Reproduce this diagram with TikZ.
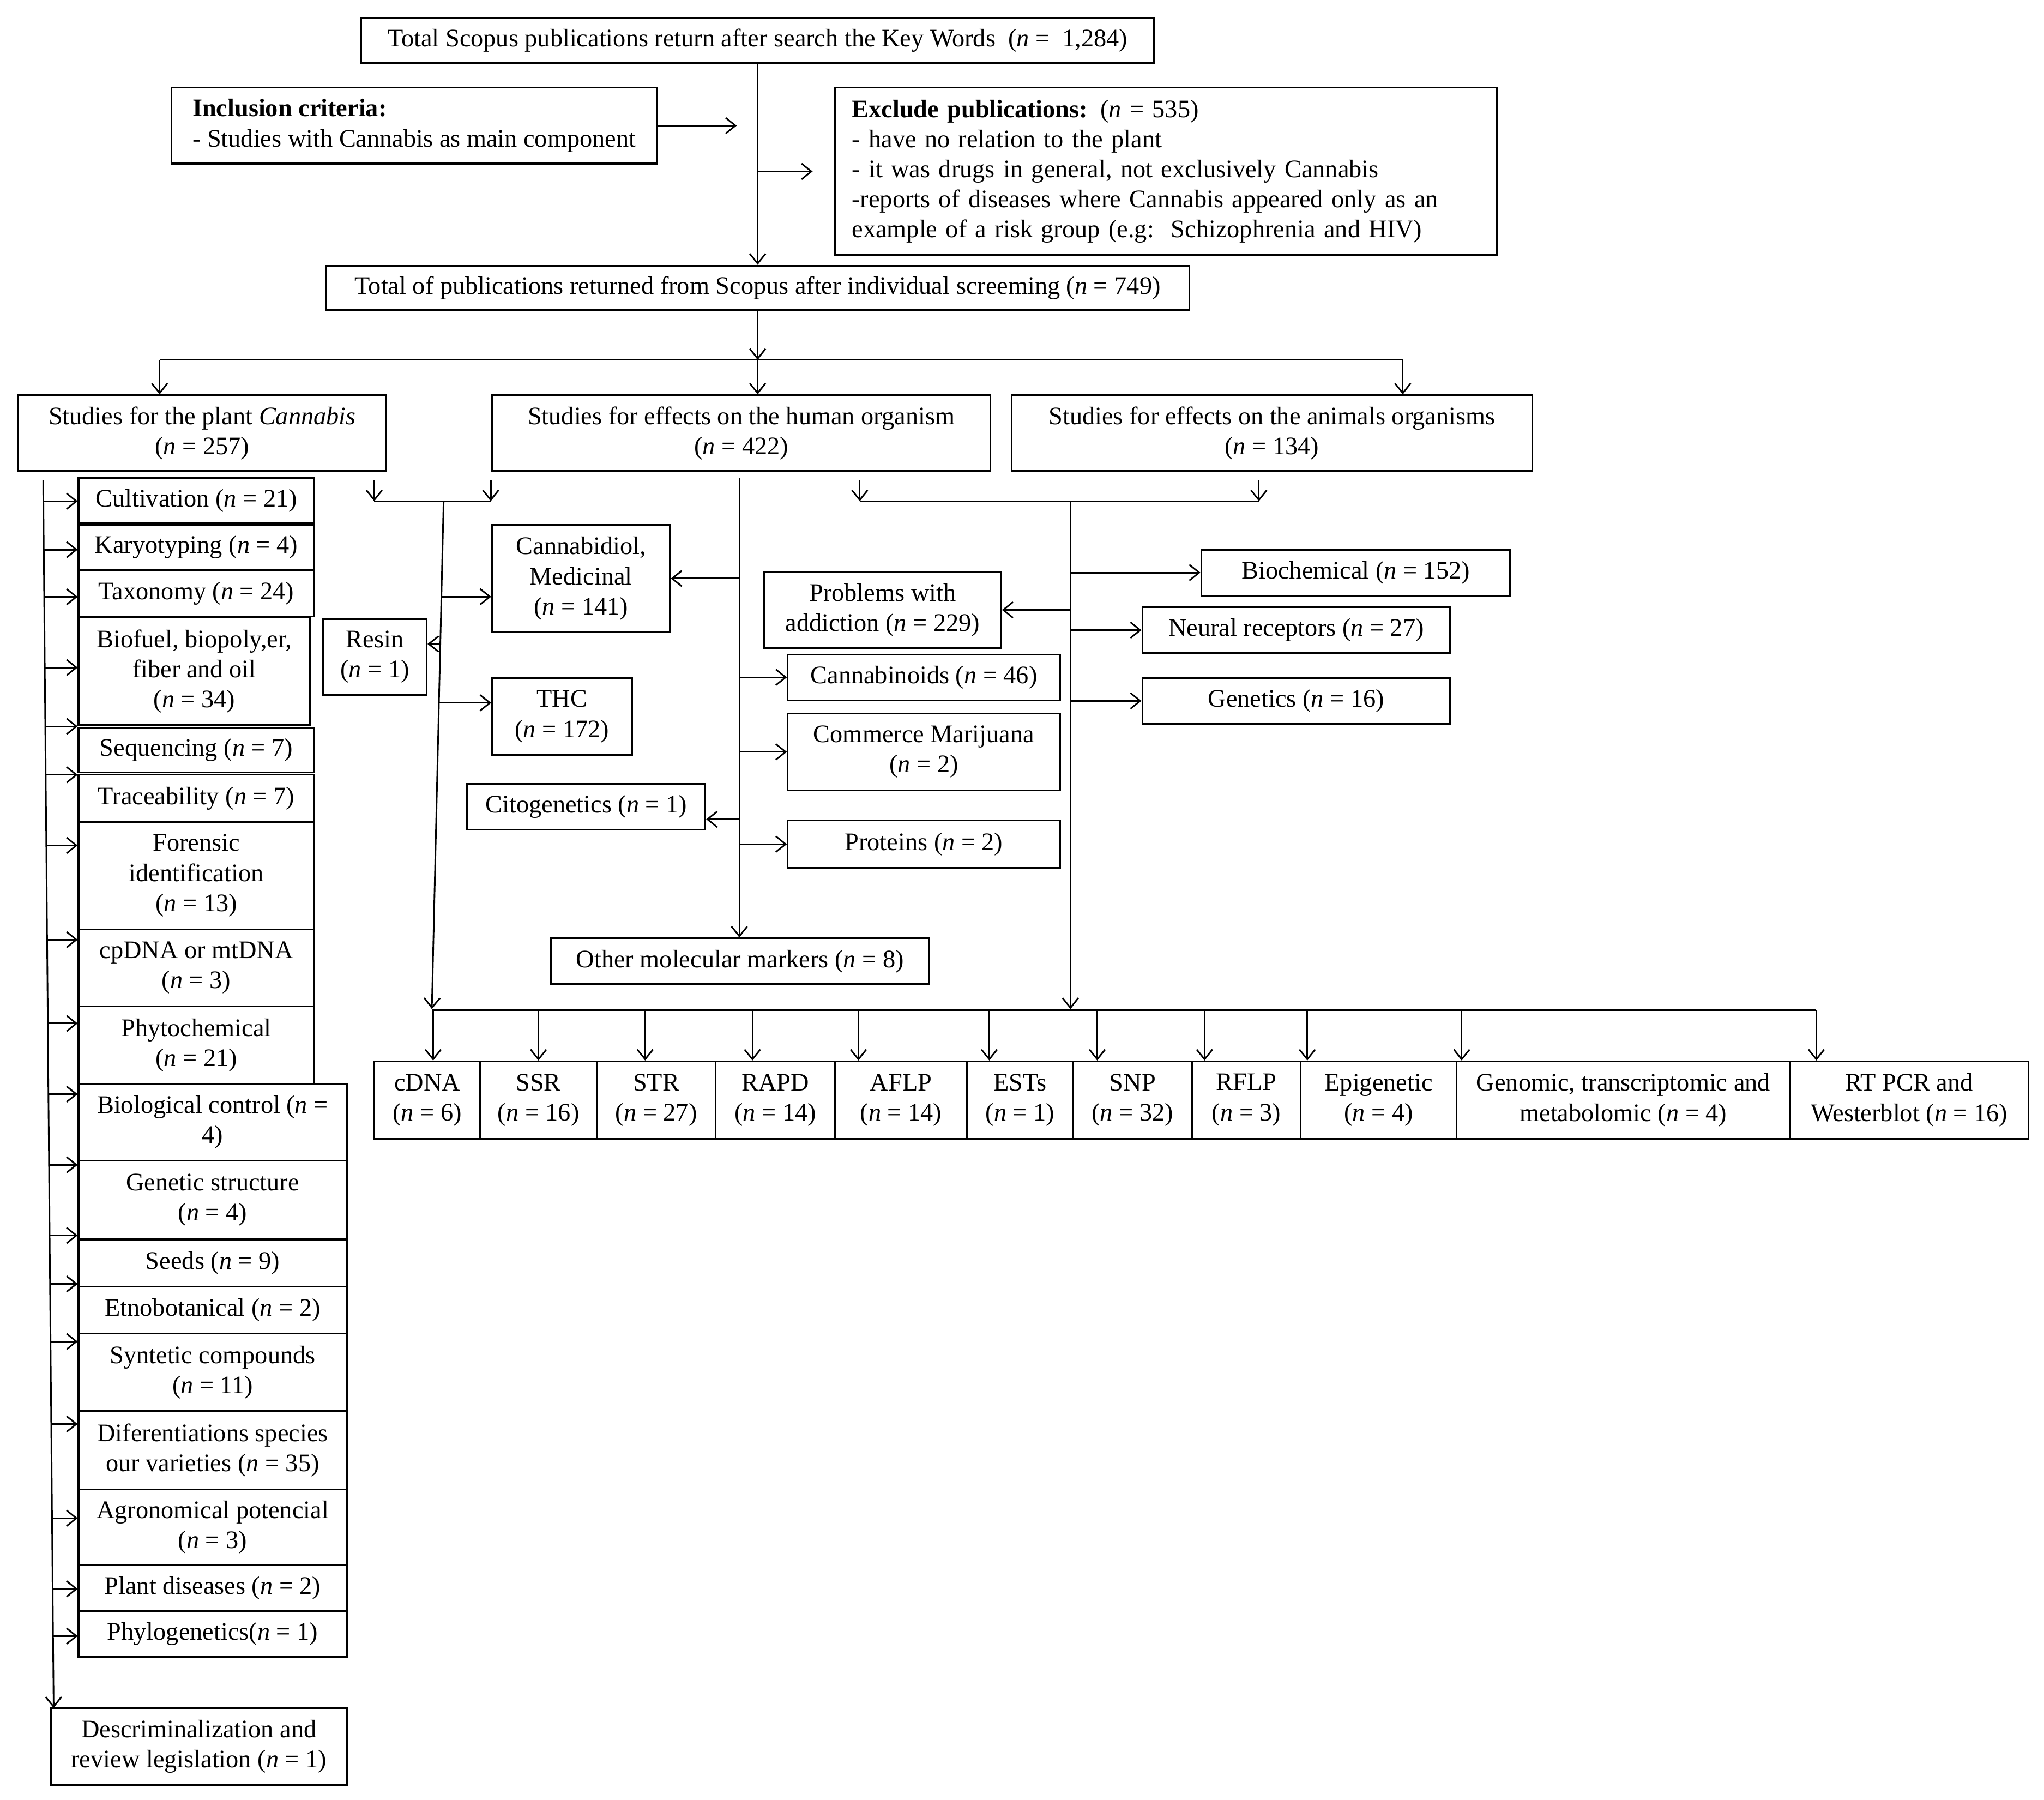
\documentclass[tikz,border=0pt]{standalone}
\usepackage{fontspec}
\setmainfont{Liberation Serif}
\usetikzlibrary{arrows.meta,calc}
\tikzset{
  box/.style={draw, line width=1.3pt, inner sep=1pt, align=center, font=\fontsize{19.3}{23}\selectfont},
  arr/.style={line width=1.2pt, -{Straight Barb[length=7.5pt,width=12pt,line width=1.2pt]}},
  ln/.style={line width=1.2pt},
}
\newcommand{\bx}[7][]{\node[box,#1,minimum width={(#5-#3)*1pt},minimum height={(#6-#4)*1pt}] (#2) at ({(#3+#5)/2},{(#4+#6)/2}) {#7};}
\newcommand{\nn}{\textit{n}}
\begin{document}
\begin{tikzpicture}[x=1pt,y=-1pt]
\useasboundingbox (0,0) rectangle (1562,1375);
% top part
\bx{top}{276}{14}{882}{48}{Total Scopus publications return after search the Key Words\ \ (\nn\ =\ \ 1,284)}
\bx[align=left]{incl}{131}{67}{502}{125}{\textbf{Inclusion criteria:}\\- Studies with Cannabis as main component}
\bx[align=left,text width=480pt]{excl}{638}{67}{1144}{195}{\textbf{Exclude publications:} (\nn\ = 535)\\- have no relation to the plant\\- it was drugs in general, not exclusively Cannabis\\-reports of diseases where Cannabis appeared only as an\\example of a risk group (e.g:\ \ Schizophrenia and HIV)}
\bx{screen}{249}{203}{909}{237}{Total of publications returned from Scopus after individual screeming (\nn\ = 749)}
\bx{plant}{14}{302}{295}{360}{Studies for the plant \textit{Cannabis}\\(\nn\ = 257)}
\bx{human}{376}{302}{757}{360}{Studies for effects on the human organism\\(\nn\ = 422)}
\bx{animal}{773}{302}{1171}{360}{Studies for effects on the animals organisms\\(\nn\ = 134)}
% left column
\bx{cult}{60}{365}{240}{400}{Cultivation (\nn\ = 21)}
\bx{kary}{60}{401}{240}{435}{Karyotyping (\nn\ = 4)}
\bx{taxo}{60}{436}{240}{471}{Taxonomy (\nn\ = 24)}
\bx{biof}{60}{472}{237}{554}{Biofuel, biopoly,er,\\fiber and oil\\(\nn\ = 34)}
\bx{sequ}{60}{556}{240}{590}{Sequencing (\nn\ = 7)}
\bx{trac}{60}{592}{240}{628}{Traceability (\nn\ = 7)}
\bx{fore}{60}{628}{240}{710}{Forensic\\identification\\(\nn\ = 13)}
\bx{cpdn}{60}{710}{240}{769}{cpDNA or mtDNA\\(\nn\ = 3)}
\bx{phyt}{60}{769}{240}{828}{Phytochemical\\(\nn\ = 21)}
\bx{bioc}{60}{828}{265}{887}{Biological control (\nn\ =\\4)}
\bx{gens}{60}{887}{265}{947}{Genetic structure\\(\nn\ = 4)}
\bx{seed}{60}{947}{265}{983}{Seeds (\nn\ = 9)}
\bx{etno}{60}{983}{265}{1019}{Etnobotanical (\nn\ = 2)}
\bx{synt}{60}{1019}{265}{1078}{Syntetic compounds\\(\nn\ = 11)}
\bx{dife}{60}{1078}{265}{1138}{Diferentiations species\\our varieties (\nn\ = 35)}
\bx{agro}{60}{1138}{265}{1196}{Agronomical potencial\\(\nn\ = 3)}
\bx{pdis}{60}{1196}{265}{1231}{Plant diseases (\nn\ = 2)}
\bx{phyl}{60}{1231}{265}{1266}{Phylogenetics(\nn\ = 1)}
\bx{desc}{39}{1305}{265}{1364}{Descriminalization and\\review legislation (\nn\ = 1)}
% middle
\bx{resin}{247}{473}{326}{531}{Resin\\(\nn\ = 1)}
\bx{cbd}{376}{401}{512}{483}{Cannabidiol,\\Medicinal\\(\nn\ = 141)}
\bx{thc}{376}{518}{483}{577}{THC\\(\nn\ = 172)}
\bx{cito}{357}{599}{539}{634}{Citogenetics (\nn\ = 1)}
\bx{prob}{584}{437}{765}{495}{Problems with\\addiction (\nn\ = 229)}
\bx{cnbs}{602}{500}{810}{535}{Cannabinoids (\nn\ = 46)}
\bx{comm}{602}{545}{810}{604}{Commerce Marijuana\\(\nn\ = 2)}
\bx{prot}{602}{627}{810}{663}{Proteins (\nn\ = 2)}
\bx{omm}{421}{717}{710}{752}{Other molecular markers (\nn\ = 8)}
% right
\bx{bioch}{918}{420}{1154}{455}{Biochemical (\nn\ = 152)}
\bx{neur}{873}{464}{1108}{499}{Neural receptors (\nn\ = 27)}
\bx{gene}{873}{518}{1108}{553}{Genetics (\nn\ = 16)}
% bottom row
\bx{cdna}{286}{811}{367}{870}{cDNA\\(\nn\ = 6)}
\bx{ssr}{367}{811}{456}{870}{SSR\\(\nn\ = 16)}
\bx{str}{456}{811}{547}{870}{STR\\(\nn\ = 27)}
\bx{rapd}{547}{811}{638}{870}{RAPD\\(\nn\ = 14)}
\bx{aflp}{638}{811}{739}{870}{AFLP\\(\nn\ = 14)}
\bx{ests}{739}{811}{820}{870}{ESTs\\(\nn\ = 1)}
\bx{snp}{820}{811}{911}{870}{SNP\\(\nn\ = 32)}
\bx{rflp}{911}{811}{994}{870}{RFLP\\(\nn\ = 3)}
\bx{epig}{994}{811}{1113}{870}{Epigenetic\\(\nn\ = 4)}
\bx{gtm}{1113}{811}{1368}{870}{Genomic, transcriptomic and\\metabolomic (\nn\ = 4)}
\bx{rtpcr}{1368}{811}{1550}{870}{RT PCR and\\Westerblot (\nn\ = 16)}
% top connectors
\draw[arr] (top.south) -- (screen.north);
\coordinate (inTip) at (563,96);
\draw[arr] (incl.east) -- (inTip);
\coordinate (exA) at (579,131);
\coordinate (exB) at (621,131);
\draw[arr] (exA) -- (exB);
\coordinate (b1) at (579,275);
\coordinate (b1L) at (122,275);
\coordinate (b1R) at (1072,275);
\draw[arr] (screen.south) -- (b1);
\draw[ln] (b1L) -- (b1R);
\draw[arr] (b1) -- (b1 |- human.north);
\draw[arr] (b1L) -- (b1L |- plant.north);
\draw[arr] (b1R) -- (b1R |- animal.north);
% plant line
\coordinate (pl0) at (33,367);
\coordinate (pl1) at (41,1305);
\draw[arr] (pl0) -- (pl1);
\foreach \p/\b in {.017/cult,.0565/kary,.0949/taxo,.1525/biof,.2004/sequ,.2399/trac,.2974/fore,.3742/cpdn,.4424/phyt,.5/bioc,.5576/gens,.6151/seed,.6546/etno,.7015/synt,.7687/dife,.8454/agro,.903/pdis,.9414/phyl}{
  \path (pl0) -- (pl1) coordinate[pos=\p] (pt);
  \draw[arr] (pt) -- (pt -| \b.west);
}
% plant/human junction
\coordinate (h1a) at (286,367);
\coordinate (h1b) at (286,383);
\coordinate (h2a) at (375,367);
\coordinate (h2b) at (375,383);
\draw[arr] (h1a) -- (h1b);
\draw[arr] (h2a) -- (h2b);
\draw[ln] (h1b) -- (h2b);
\coordinate (s0) at (339,383);
\coordinate (s1) at (330,771);
\draw[arr] (s0) -- (s1);
\path (s0) -- (s1) coordinate[pos=.188] (sc) coordinate[pos=.281] (sr) coordinate[pos=.397] (st);
\draw[arr] (sc) -- (sc -| cbd.west);
\draw[arr] (sr) -- (sr -| resin.east);
\draw[arr] (st) -- (st -| thc.west);
% human stem
\coordinate (m0) at (565,365);
\draw[arr] (m0) -- (m0 |- omm.north);
\draw[arr] (cbd.east -| m0) -- (cbd.east);
\draw[arr] (cnbs.west -| m0) -- (cnbs.west);
\draw[arr] (comm.west -| m0) -- (comm.west);
\draw[arr] (prot.west -| m0) -- (prot.west);
\coordinate (mc) at (565,626);
\draw[arr] (mc) -- (mc -| cito.east);
% animal junction
\coordinate (g1a) at (657,367);
\coordinate (g1b) at (657,383);
\coordinate (g2a) at (962,367);
\coordinate (g2b) at (962,383);
\draw[arr] (g1a) -- (g1b);
\draw[arr] (g2a) -- (g2b);
\draw[ln] (g1b) -- (g2b);
\coordinate (a0) at (818,383);
\coordinate (a1) at (818,771);
\draw[arr] (a0) -- (a1);
\draw[arr] (bioch.west -| a0) -- (bioch.west);
\draw[arr] (prob.east -| a0) -- (prob.east);
\draw[arr] (neur.west -| a0) -- (neur.west);
\draw[arr] (gene.west -| a0) -- (gene.west);
% bus
\coordinate (busL) at (330,772);
\coordinate (busR) at (1388,772);
\draw[ln] (busL) -- (busR);
\foreach \x/\b in {331/cdna,411.5/ssr,493/str,575/rapd,656/aflp,756/ests,838.5/snp,920.5/rflp,999/epig,1117/gtm,1388/rtpcr}{
  \coordinate (bt) at (\x,772);
  \draw[arr] (bt) -- (bt |- \b.north);
}
\end{tikzpicture}
\end{document}
